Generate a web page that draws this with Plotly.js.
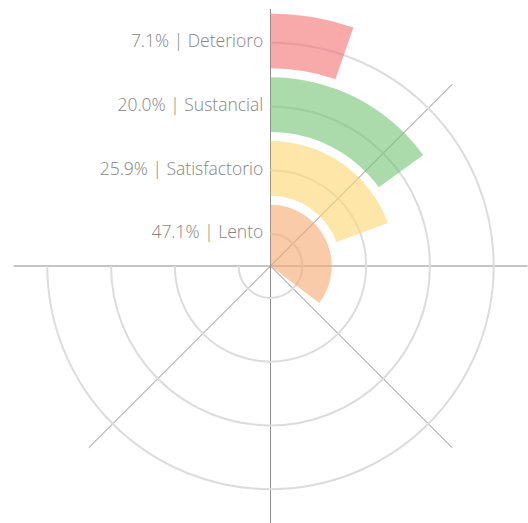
<!DOCTYPE html>
<html>
<head>
<meta charset="utf-8">
<script src="https://cdn.plot.ly/plotly-3.0.1.min.js"></script>
<style>html,body{margin:0;padding:0;background:#fff;}#chart{width:528px;height:523px;}</style>
</head>
<body>
<div id="chart"></div>
<script>
// Data
const categories = ["Lento", "Satisfactorio", "Sustancial", "Deterioro"];
const percentValues = [47.1, 25.9, 20.0, 7.1];
const barColors = ["rgba(245,168,110,0.6)", "rgba(252,213,110,0.6)", "rgba(115,193,115,0.6)", "rgba(243,113,113,0.6)"];

// Scale: 100% spans the 270° sector
const sectorSpan = 270;
const toDeg = v => v * sectorSpan / 100;

const bases = categories.map((c, i) => i === 0 ? 0 : i + 0.1);
const lengths = categories.map((c, i) => (i + 0.96) - bases[i]);

const bars = {
  type: "barpolar",
  r: lengths,
  base: bases,
  theta: percentValues.map(v => toDeg(v) / 2),
  width: percentValues.map(v => toDeg(v)),
  marker: { color: barColors, line: { width: 0 } },
  hoverinfo: "skip",
  showlegend: false
};

const labels = {
  type: "scatterpolar",
  mode: "markers+text",
  r: categories.map((c, i) => i + 0.5),
  theta: categories.map(() => 0),
  text: categories.map((c, i) => percentValues[i].toFixed(1) + "% | " + c),
  textposition: "middle left",
  marker: { size: 10, opacity: 0 },
  textfont: { family: "Open Sans, sans-serif", size: 17.5, weight: 300, color: "#858585" },
  hoverinfo: "skip",
  showlegend: false,
  cliponaxis: false
};

const W = 528, H = 523, cx = 270.5, cy = 266, R = 257;

const layout = {
  width: W, height: H,
  margin: { l: 0, r: 0, t: 0, b: 0 },
  paper_bgcolor: "#fff",
  showlegend: false,
  polar: {
    domain: { x: [(cx - R) / W, (cx + R) / W], y: [1 - (cy + R) / H, 1 - (cy - R) / H] },
    sector: [180, 450],
    bgcolor: "rgba(0,0,0,0)",
    bargap: 0,
    angularaxis: {
      rotation: 90,
      direction: "clockwise",
      tickmode: "linear",
      tick0: 0,
      dtick: 45,
      showticklabels: false,
      ticks: "",
      showline: false,
      gridcolor: "#8c8c8c",
      gridwidth: 1
    },
    radialaxis: {
      range: [0, 4.03],
      tickvals: [0.5, 1.5, 2.5, 3.5],
      showticklabels: false,
      ticks: "",
      showline: false,
      gridcolor: "#dcdcdc",
      gridwidth: 2
    }
  }
};

Plotly.newPlot("chart", [bars, labels], layout, { displayModeBar: false, staticPlot: true });
</script>
</body>
</html>
